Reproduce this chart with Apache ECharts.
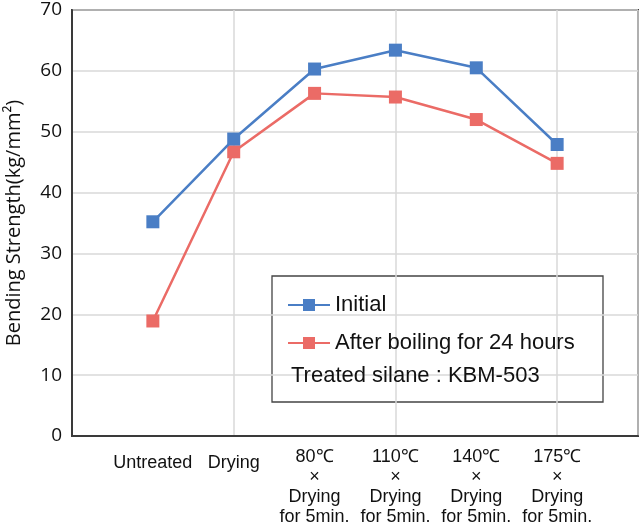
<!DOCTYPE html>
<html>
<head>
<meta charset="utf-8">
<script src="https://cdn.jsdelivr.net/npm/echarts@6/dist/echarts.min.js"></script>
<style>
  html, body { margin: 0; padding: 0; background: #fff; }
  #chart { width: 640px; height: 529px; }
</style>
</head>
<body>
<div id="chart"></div>
<script>
// Bending strength by treatment, initial vs. after boiling 24h.
// Blank first/last categories pad the axis so points sit between frame edges.
const categories = [
  "",
  "Untreated",
  "Drying",
  "80℃\n×\nDrying\nfor 5min.",
  "110℃\n×\nDrying\nfor 5min.",
  "140℃\n×\nDrying\nfor 5min.",
  "175℃\n×\nDrying\nfor 5min.",
  "",
];
const initial = ["-", 35.2, 48.8, 60.3, 63.4, 60.5, 47.9, "-"];
const afterBoiling = ["-", 18.9, 46.7, 56.3, 55.7, 52.0, 44.8, "-"];
const seriesNames = ["Initial", "After boiling for 24 hours"];
const noteText = "Treated silane : KBM-503";

const BLUE = "#4a7ec5";
const RED = "#eb6b66";
const FONT = "Liberation Sans, Arial, sans-serif";
const AXFONT = "Open Sans, sans-serif";

const chart = echarts.init(document.getElementById("chart"));
chart.setOption({
  animation: false,
  grid: { left: 72, right: 2, top: 10, bottom: 93, show: true, outerBoundsMode: "none",
    borderColor: "#3a3a3a", borderWidth: 2, backgroundColor: "transparent" },
  xAxis: {
    type: "category", data: categories, boundaryGap: false,
    axisLine: { lineStyle: { color: "#3a3a3a", width: 2 } },
    axisTick: { show: false },
    axisLabel: {
      interval: 0, color: "#111", fontFamily: FONT, fontSize: 18, lineHeight: 20, margin: 11,
      // single-line labels sit a little lower, between the first two rows
      formatter: (v) => (v.indexOf("\n") < 0 && v ? `{one|${v}}` : v),
      rich: { one: { fontFamily: FONT, fontSize: 18, lineHeight: 20, padding: [12, 0, 0, 0], color: "#111" } },
    },
    splitLine: { show: true, interval: 1, lineStyle: { color: "#d9d9d9", width: 1.5 } },
  },
  yAxis: {
    type: "value", min: 0, max: 70, interval: 10,
    name: "Bending Strength(kg/mm²)", nameLocation: "middle", nameGap: 48,
    nameTextStyle: { color: "#111", fontSize: 20, fontFamily: AXFONT },
    axisLine: { show: true, lineStyle: { color: "#3a3a3a", width: 2 } },
    axisTick: { show: false },
    axisLabel: { color: "#111", fontSize: 19, fontFamily: AXFONT, margin: 10 },
    splitLine: { lineStyle: { color: "#d9d9d9", width: 1.5 } },
  },
  legend: {
    orient: "vertical", left: 282, top: 289, itemGap: 16,
    itemWidth: 42, itemHeight: 15,
    textStyle: { color: "#111", fontSize: 22, fontFamily: FONT },
    data: seriesNames,
  },
  graphic: [
    { type: "rect", shape: { x: 272, y: 276, width: 331, height: 126 },
      style: { fill: "#fff", stroke: "#444", lineWidth: 1.3 }, z: 0 },
    { type: "text", x: 291, y: 376,
      style: { text: noteText, fontSize: 22, fontFamily: FONT, fill: "#111", verticalAlign: "middle" }, z: 10 },
  ],
  series: [
    { name: seriesNames[0], type: "line", data: initial, symbol: "rect", symbolSize: 13,
      itemStyle: { color: BLUE }, lineStyle: { color: BLUE, width: 2.5 }, z: 3 },
    { name: seriesNames[1], type: "line", data: afterBoiling, symbol: "rect", symbolSize: 13,
      itemStyle: { color: RED }, lineStyle: { color: RED, width: 2.5 }, z: 2 },
  ],
});
</script>
</body>
</html>
